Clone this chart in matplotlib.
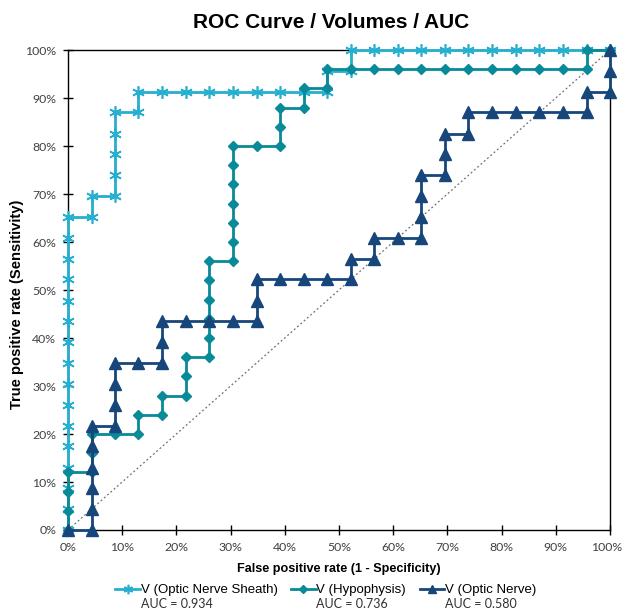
import matplotlib
matplotlib.use("Agg")
import matplotlib.pyplot as plt
import matplotlib.transforms as mtransforms

# ROC points (percent)
ons_fpr = [0, 0, 0, 0, 0, 0, 0, 0, 0, 0, 0, 0, 0, 0, 0, 0,
           4.35, 4.35, 8.7, 8.7, 8.7, 8.7, 8.7, 13.0, 13.0,
           17.4, 21.7, 26.1, 30.4, 34.8, 39.1, 43.5, 47.8, 47.8, 52.2, 52.2,
           56.5, 60.9, 65.2, 69.6, 73.9, 78.3, 82.6, 87.0, 91.3, 95.7, 100]
ons_tpr = [0, 4.35, 8.7, 13.0, 17.4, 21.7, 26.1, 30.4, 34.8, 39.1, 43.5, 47.8, 52.2, 56.5, 60.9, 65.2,
           65.2, 69.6, 69.6, 73.9, 78.3, 82.6, 87.0, 87.0, 91.3,
           91.3, 91.3, 91.3, 91.3, 91.3, 91.3, 91.3, 91.3, 95.7, 95.7, 100,
           100, 100, 100, 100, 100, 100, 100, 100, 100, 100, 100]

hyp_fpr = [0, 0, 0, 0, 4.35, 4.35, 4.35, 8.7, 13.0, 13.0, 17.4, 17.4, 21.7, 21.7, 21.7,
           26.1, 26.1, 26.1, 26.1, 26.1, 26.1, 30.4, 30.4, 30.4, 30.4, 30.4, 30.4, 30.4,
           34.8, 39.1, 39.1, 39.1, 43.5, 43.5, 47.8, 47.8,
           52.2, 56.5, 60.9, 65.2, 69.6, 73.9, 78.3, 82.6, 87.0, 91.3, 95.7, 95.7, 100]
hyp_tpr = [0, 4, 8, 12, 12, 16, 20, 20, 20, 24, 24, 28, 28, 32, 36,
           36, 40, 44, 48, 52, 56, 56, 60, 64, 68, 72, 76, 80,
           80, 80, 84, 88, 88, 92, 92, 96,
           96, 96, 96, 96, 96, 96, 96, 96, 96, 96, 96, 100, 100]

on_fpr = [0, 4.35, 4.35, 4.35, 4.35, 4.35, 4.35, 8.7, 8.7, 8.7, 8.7, 13.0, 17.4, 17.4, 17.4,
          21.7, 26.1, 30.4, 34.8, 34.8, 34.8, 39.1, 43.5, 47.8, 52.2, 52.2, 56.5, 56.5,
          60.9, 65.2, 65.2, 65.2, 65.2, 69.6, 69.6, 69.6, 73.9, 73.9,
          78.3, 82.6, 87.0, 91.3, 95.7, 95.7, 100, 100, 100]
on_tpr = [0, 0, 4.35, 8.7, 13.0, 17.4, 21.7, 21.7, 26.1, 30.4, 34.8, 34.8, 34.8, 39.1, 43.5,
          43.5, 43.5, 43.5, 43.5, 47.8, 52.2, 52.2, 52.2, 52.2, 52.2, 56.5, 56.5, 60.9,
          60.9, 60.9, 65.2, 69.6, 73.9, 73.9, 78.3, 82.6, 82.6, 87.0,
          87.0, 87.0, 87.0, 87.0, 87.0, 91.3, 91.3, 95.7, 100]

labels = ["V (Optic Nerve Sheath)", "V (Hypophysis)", "V (Optic Nerve)"]
auc_values = ["0.934", "0.736", "0.580"]
colors = ["#27AFD0", "#098A98", "#17467A"]
ticks = [0, 10, 20, 30, 40, 50, 60, 70, 80, 90, 100]

fig = plt.figure(figsize=(6.23, 6.13), dpi=100)
ax = fig.add_axes([0.1091, 0.1354, 0.8699, 0.7830])

# chance line
ax.plot([0, 100], [0, 100], linestyle=(0, (1.5, 2)), color="#707070", lw=0.9, zorder=1)

mk = [dict(marker=(6, 2, 0), markersize=9, markeredgewidth=1.2),
      dict(marker="D", markersize=5.5),
      dict(marker="^", markersize=8)]
series = [(ons_fpr, ons_tpr), (hyp_fpr, hyp_tpr), (on_fpr, on_tpr)]
handles = []
for i, (fx, ty) in enumerate(series):
    h, = ax.plot(fx, ty, color=colors[i], lw=2.0, markerfacecolor=colors[i],
                 markeredgecolor=colors[i], clip_on=False, zorder=3 + i, **mk[i])
    handles.append(h)

ax.set_xlim(0, 100)
ax.set_ylim(0, 100)
ax.set_xticks(ticks)
ax.set_yticks(ticks)
ax.set_xticklabels([f"{t}%" for t in ticks])
ax.set_yticklabels([f"{t}%" for t in ticks])
ax.tick_params(direction="inout", length=7, width=1, labelsize=8.8, colors="black",
               labelcolor="#404040", pad=5)
for lab in ax.get_xticklabels() + ax.get_yticklabels():
    lab.set_fontfamily("Lato")
# keep the last x label inside the picture
last = ax.get_xticklabels()[-1]
last.set_transform(last.get_transform() +
                   mtransforms.ScaledTranslation(-3 / 100, 0, fig.dpi_scale_trans))
for s in ax.spines.values():
    s.set_color("black")
    s.set_linewidth(1)

ax.set_xlabel("False positive rate (1 - Specificity)", fontsize=9.1, fontweight="bold",
              family="Liberation Sans", labelpad=7)
ax.set_ylabel("True positive rate (Sensitivity)", fontsize=10.6, fontweight="bold",
              family="Liberation Sans")
ax.yaxis.set_label_coords(-0.081, 0.47)
fig.text(0.531, 0.964, "ROC Curve / Volumes / AUC", fontsize=15, fontweight="bold",
         family="Liberation Sans", ha="center", va="center")

leg = fig.legend(handles, labels, loc="center", bbox_to_anchor=(0.523, 0.037), ncol=3,
                 frameon=False, handlelength=1.85, handletextpad=0.05, columnspacing=1.05,
                 prop={"family": "Liberation Sans", "size": 9.5})
for h in leg.legend_handles:
    h.set_markersize(h.get_markersize() * 0.75)

fig.canvas.draw()
r = fig.canvas.get_renderer()
inv = fig.transFigure.inverted()
for t, a in zip(leg.get_texts(), auc_values):
    bb = t.get_window_extent(r)
    x0, y0 = inv.transform((bb.x0, bb.y0))
    fig.text(x0, y0 - 0.002, f"AUC = {a}", fontsize=9, family="Lato", color="#303030",
             ha="left", va="top")

fig.savefig("out.png", dpi=100)
